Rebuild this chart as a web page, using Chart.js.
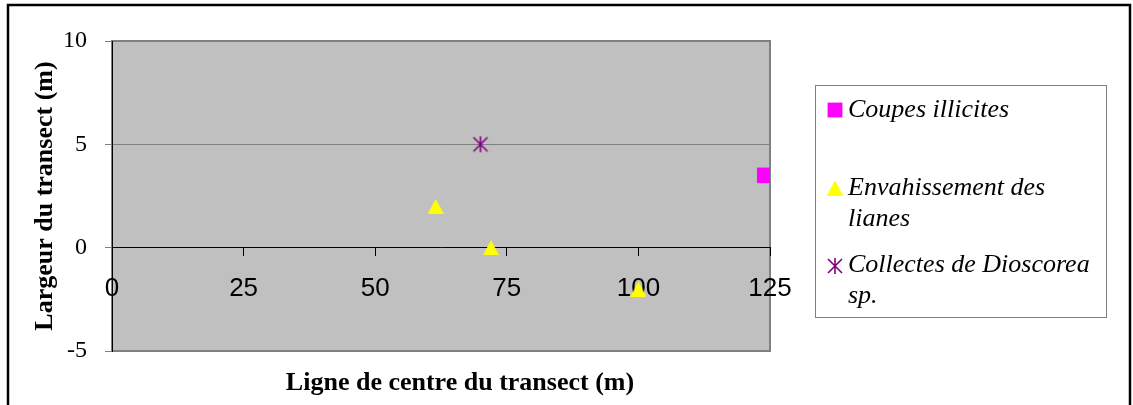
<!DOCTYPE html>
<html>
<head>
<meta charset="utf-8">
<script src="https://cdn.jsdelivr.net/npm/chart.js@4/dist/chart.umd.min.js"></script>
<style>
  html, body { margin: 0; padding: 0; background: #ffffff; }
  canvas { display: block; }
</style>
</head>
<body>
<canvas id="transectChart" width="1133" height="405"></canvas>
<script>
// Data
const legendLines = [
    ['Coupes illicites'],
    ['Envahissement des', 'lianes'],
    ['Collectes de Dioscorea', 'sp.']
];
const coupesX = [124];
const coupesY = [3.5];
const lianesX = [61.5, 72, 100];
const lianesY = [2, 0, -2];
const dioscoreaX = [70];
const dioscoreaY = [5];

const xMin = 0, xMax = 125, xStep = 25;
const yMin = -5, yMax = 10, yStep = 5;

const xTitle = 'Ligne de centre du transect (m)';
const yTitle = 'Largeur du transect (m)';

const colors = ['#FF00FF', '#FFFF00', '#800080'];

function toPoints(xs, ys) {
    return xs.map((x, i) => ({ x: x, y: ys[i] }));
}

// asterisk marker (X with a vertical bar)
function makeAsterisk(size, color) {
    const c = document.createElement('canvas');
    c.width = size;
    c.height = size;
    const g = c.getContext('2d');
    g.strokeStyle = color;
    g.lineWidth = 1.6;
    const m = size / 2, d = size / 2 - 2;
    g.beginPath();
    g.moveTo(m - d, m - d); g.lineTo(m + d, m + d);
    g.moveTo(m + d, m - d); g.lineTo(m - d, m + d);
    g.moveTo(m, m - d - 1); g.lineTo(m, m + d + 1);
    g.stroke();
    return c;
}

// triangle centred on its bounding box
function makeTriangle(w, h, color) {
    const c = document.createElement('canvas');
    c.width = w;
    c.height = h;
    const g = c.getContext('2d');
    g.fillStyle = color;
    g.beginPath();
    g.moveTo(w / 2, 0);
    g.lineTo(w, h);
    g.lineTo(0, h);
    g.closePath();
    g.fill();
    return c;
}

const asterisk = makeAsterisk(18, colors[2]);
const triangle = makeTriangle(16, 15, colors[1]);

const markerStyles = [
    { pointStyle: 'rect', radius: 11 },
    { pointStyle: triangle, radius: 8 },
    { pointStyle: asterisk, radius: 8 }
];

// plot background, outer frame, x title and legend
const decorPlugin = {
    id: 'decor',
    beforeDraw(chart) {
        const ctx = chart.ctx;
        const a = chart.chartArea;
        ctx.save();
        ctx.fillStyle = '#ffffff';
        ctx.fillRect(0, 0, chart.width, chart.height);
        ctx.strokeStyle = '#000000';
        ctx.lineWidth = 2.5;
        ctx.strokeRect(8, 5, 1122, 430);
        ctx.fillStyle = '#C0C0C0';
        ctx.fillRect(a.left, a.top, a.right - a.left, a.bottom - a.top);
        ctx.strokeStyle = '#808080';
        ctx.lineWidth = 2;
        ctx.strokeRect(a.left, a.top, a.right - a.left, a.bottom - a.top);
        ctx.restore();
    },
    afterDraw(chart) {
        const ctx = chart.ctx;
        ctx.save();
        // x axis title
        ctx.fillStyle = '#000000';
        ctx.font = 'bold 26px "Liberation Serif", "Times New Roman", serif';
        ctx.textAlign = 'center';
        ctx.textBaseline = 'middle';
        ctx.fillText(xTitle, 460, 383);

        // legend box
        ctx.strokeStyle = '#808080';
        ctx.lineWidth = 1;
        ctx.strokeRect(815.5, 85.5, 291, 232);

        const rows = [110, 188, 265];
        const markerRows = [110, 188, 266];
        const lineGap = 31;
        ctx.font = 'italic 26px "Liberation Serif", "Times New Roman", serif';
        ctx.textAlign = 'left';
        legendLines.forEach((lines, i) => {
            const ds = chart.data.datasets[i];
            ctx.fillStyle = ds.backgroundColor;
            Chart.helpers.drawPoint(ctx, {
                pointStyle: markerStyles[i].pointStyle,
                radius: i === 0 ? 10.5 : markerStyles[i].radius,
                rotation: 0,
                borderWidth: 0
            }, 835, markerRows[i]);
            ctx.fillStyle = '#000000';
            lines.forEach((t, j) => {
                ctx.fillText(t, 848, rows[i] + j * lineGap);
            });
        });
        ctx.restore();
    }
};

new Chart(document.getElementById('transectChart'), {
    type: 'scatter',
    data: {
        datasets: [
            {
                label: legendLines[0].join(' '),
                data: toPoints(coupesX, coupesY),
                backgroundColor: colors[0],
                borderColor: colors[0],
                borderWidth: 0,
                pointStyle: markerStyles[0].pointStyle,
                pointRadius: markerStyles[0].radius,
                pointHoverRadius: markerStyles[0].radius
            },
            {
                label: legendLines[1].join(' '),
                data: toPoints(lianesX, lianesY),
                backgroundColor: colors[1],
                borderColor: colors[1],
                borderWidth: 0,
                pointStyle: markerStyles[1].pointStyle,
                pointRadius: markerStyles[1].radius,
                pointHoverRadius: markerStyles[1].radius
            },
            {
                label: legendLines[2].join(' '),
                data: toPoints(dioscoreaX, dioscoreaY),
                backgroundColor: colors[2],
                borderColor: colors[2],
                borderWidth: 0,
                pointStyle: markerStyles[2].pointStyle,
                pointRadius: markerStyles[2].radius,
                pointHoverRadius: markerStyles[2].radius
            }
        ]
    },
    options: {
        responsive: false,
        animation: false,
        events: [],
        layout: {
            padding: { left: 20, top: 41, right: 363, bottom: 54 }
        },
        plugins: {
            legend: { display: false },
            tooltip: { enabled: false }
        },
        scales: {
            x: {
                type: 'linear',
                position: { y: 0 },
                min: xMin,
                max: xMax,
                z: 1,
                ticks: {
                    stepSize: xStep,
                    padding: 18,
                    color: '#000000',
                    font: { family: '"Liberation Sans", Arial, sans-serif', size: 26 }
                },
                grid: {
                    drawOnChartArea: false,
                    drawTicks: true,
                    tickLength: 8,
                    tickColor: '#000000'
                },
                border: { display: true, color: '#000000', width: 1 }
            },
            y: {
                type: 'linear',
                min: yMin,
                max: yMax,
                afterFit(scale) {
                    scale.width = 92;
                },
                ticks: {
                    stepSize: yStep,
                    padding: 18,
                    color: '#000000',
                    font: { family: '"Liberation Serif", "Times New Roman", serif', size: 24 }
                },
                grid: {
                    color: ctx => (ctx.tick && ctx.tick.value === 0) ? 'rgba(0,0,0,0)' : '#808080',
                    lineWidth: 1,
                    tickLength: 7,
                    tickColor: '#808080'
                },
                border: { display: true, color: '#000000', width: 1 },
                title: {
                    display: true,
                    text: yTitle,
                    color: '#000000',
                    padding: { top: 10, bottom: 0 },
                    font: { family: '"Liberation Serif", "Times New Roman", serif', size: 26, weight: 'bold' }
                }
            }
        }
    },
    plugins: [decorPlugin]
});
</script>
</body>
</html>
